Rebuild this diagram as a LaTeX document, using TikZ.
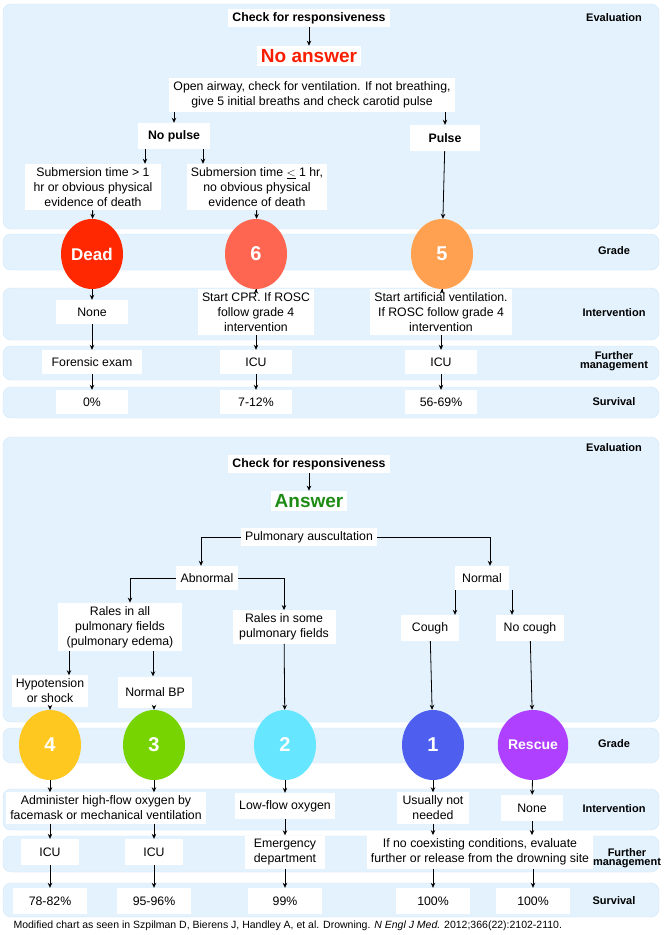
\documentclass[tikz,border=0pt]{standalone}
\usepackage{fontspec}
\setmainfont{Liberation Sans}
\usetikzlibrary{arrows.meta,calc,shapes.geometric}
\definecolor{pan}{HTML}{E3F2FD}
\definecolor{panb}{HTML}{CFE5F7}
\begin{document}
\begin{tikzpicture}[x=1pt,y=-1pt,
  panel/.style={fill=pan,draw=panb,rounded corners=8pt},
  b/.style={fill=white,inner xsep=4pt,inner ysep=3.5pt,align=center,font=\fontsize{12.3}{15}\selectfont},
  bb/.style={b,font=\fontsize{12.3}{15}\selectfont\bfseries},
  lab/.style={align=center,font=\fontsize{11}{11.5}\selectfont\bfseries},
  g/.style={ellipse,minimum width=62pt,minimum height=70pt,inner sep=0pt,text=white,font=\fontsize{20}{20}\selectfont\bfseries},
  a/.style={-{Stealth[length=5pt,width=4.5pt]},line width=0.8pt}]
\path[use as bounding box] (0,0) rectangle (672,935);
% panels
\path[panel] (3,4) rectangle (659,229);
\path[panel] (3,234) rectangle (659,270);
\path[panel] (3,288) rectangle (659,340);
\path[panel] (3,346) rectangle (659,380);
\path[panel] (3,387) rectangle (659,418);
\path[panel] (3,437) rectangle (659,722);
\path[panel] (3,728) rectangle (659,763);
\path[panel] (3,789) rectangle (659,830);
\path[panel] (3,836) rectangle (659,872);
\path[panel] (3,883) rectangle (659,917);
% labels
\node[lab] (l1) at (614,18) {Evaluation};
\node[lab] (l2) at (614,251) {Grade};
\node[lab] (l3) at (614,313) {Intervention};
\node[lab] (l4) at (614,361) {Further\\[-2pt]management};
\node[lab] (l5) at (614,402) {Survival};
\node[lab] (m1) at (614,448) {Evaluation};
\node[lab] (m2) at (614,744) {Grade};
\node[lab] (m3) at (614,809) {Intervention};
\node[lab] (m4) at (627,858) {Further\\[-2pt]management};
\node[lab] (m5) at (614,901) {Survival};
% top
\node[bb] (chk) at (309,18) {Check for responsiveness};
\node[b,font=\fontsize{19}{19}\selectfont\bfseries,text={rgb,255:red,250;green,30;blue,0}] (na) at (309,56) {No answer};
\node[b] (open) at (312,95) {Open airway, check for ventilation. If not breathing,\\give 5 initial breaths and check carotid pulse};
\node[bb,minimum width=72pt,minimum height=26pt] (np) at (174,136) {No pulse};
\node[bb,minimum width=70pt,minimum height=26pt] (p) at (445,138) {Pulse};
\node[b,minimum width=136pt] (s1) at (93,187) {Submersion time > 1\\hr or obvious physical\\evidence of death};
\node[b,minimum width=136pt] (s2) at (257,187) {Submersion time $\underline{<}$ 1 hr,\\no obvious physical\\evidence of death};
\node[g,fill={rgb,255:red,255;green,40;blue,0},font=\fontsize{17}{17}\selectfont\bfseries] (dead) at (92,254) {Dead};
\node[g,fill={rgb,255:red,255;green,102;blue,82}] (g6) at (256,254) {6};
\node[g,fill={rgb,255:red,255;green,161;blue,80}] (g5) at (442,254) {5};
\node[b,minimum width=72pt,minimum height=24pt] (i0) at (92,312) {None};
\node[b] (i6) at (256,312) {Start CPR. If ROSC\\follow grade 4\\intervention};
\node[b] (i5) at (441,312) {Start artificial ventilation.\\If ROSC follow grade 4\\intervention};
\node[b,minimum width=100pt,minimum height=24pt] (f0) at (92,362) {Forensic exam};
\node[b,minimum width=72pt,minimum height=24pt] (f6) at (256,362) {ICU};
\node[b,minimum width=72pt,minimum height=24pt] (f5) at (441,362) {ICU};
\node[b,minimum width=72pt,minimum height=24pt] (v0) at (92,402) {0\%};
\node[b,minimum width=72pt,minimum height=24pt] (v6) at (256,402) {7-12\%};
\node[b,minimum width=72pt,minimum height=24pt] (v5) at (441,402) {56-69\%};
\draw[a] (chk) -- (na);
\draw[a] (open.south -| np) -- (np);
\draw[a] (open.south -| p) -- (p);
\coordinate (c1) at (145,0);
\coordinate (c2) at (203,0);
\draw[a] (np.south -| c1) -- (s1.north -| c1);
\draw[a] (np.south -| c2) -- (s2.north -| c2);
\draw[a] (s1) -- (dead);
\draw[a] (s2) -- (g6);
\draw[a] (p) -- (g5);
\foreach \u/\v/\w/\z in {dead/i0/f0/v0, g6/i6/f6/v6, g5/i5/f5/v5}{
  \draw[a] (\u) -- (\u |- \v.north);
  \draw[a] (\v) -- (\w);
  \draw[a] (\w) -- (\z);}
% bottom
\node[bb] (chk2) at (309,464) {Check for responsiveness};
\node[b,font=\fontsize{19}{19}\selectfont\bfseries,text={rgb,255:red,30;green,140;blue,20}] (ans) at (309,501) {Answer};
\node[b] (pa) at (309,537) {Pulmonary auscultation};
\node[b,minimum width=62pt,minimum height=24pt] (ab) at (207,578) {Abnormal};
\node[b,minimum width=54pt,minimum height=24pt] (no) at (482,578) {Normal};
\node[b,minimum width=124pt] (ra) at (120,627) {Rales in all\\pulmonary fields\\(pulmonary edema)};
\node[b,minimum width=103pt] (rs) at (284,627) {Rales in some\\pulmonary fields};
\node[b,minimum width=58pt,minimum height=26pt] (co) at (430,628) {Cough};
\node[b,minimum width=68pt,minimum height=26pt] (nc) at (530,628) {No cough};
\node[b,minimum width=74pt] (hy) at (50,691) {Hypotension\\or shock};
\node[b,minimum width=74pt,minimum height=31pt] (nb) at (155,692) {Normal BP};
\node[g,fill={rgb,255:red,255;green,200;blue,32}] (g4) at (50,745) {4};
\node[g,fill={rgb,255:red,120;green,212;blue,0}] (g3) at (154,745) {3};
\node[g,fill={rgb,255:red,102;green,230;blue,255}] (g2) at (285,745) {2};
\node[g,fill={rgb,255:red,78;green,95;blue,240}] (g1) at (433,745) {1};
\node[g,fill={rgb,255:red,176;green,64;blue,255},font=\fontsize{14}{14}\selectfont\bfseries] (gr) at (533,745) {Rescue};
\node[b] (ia) at (106,808) {Administer high-flow oxygen by\\facemask or mechanical ventilation};
\node[b,minimum height=26pt] (i2) at (285,806) {Low-flow oxygen};
\node[b,minimum width=72pt] (i1) at (433,808) {Usually not\\needed};
\node[b,minimum width=62pt,minimum height=26pt] (ir) at (532,808) {None};
\node[b,minimum width=58pt,minimum height=26pt] (f4) at (50,852) {ICU};
\node[b,minimum width=58pt,minimum height=26pt] (f3) at (154,852) {ICU};
\node[b,minimum width=80pt] (f2) at (285,852) {Emergency\\department};
\node[b] (f1) at (480,852) {If no coexisting conditions, evaluate\\further or release from the drowning site};
\node[b,minimum width=74pt,minimum height=26pt] (v4) at (50,901) {78-82\%};
\node[b,minimum width=74pt,minimum height=26pt] (v3) at (154,901) {95-96\%};
\node[b,minimum width=74pt,minimum height=26pt] (v2) at (285,901) {99\%};
\node[b,minimum width=74pt,minimum height=26pt] (v1) at (433,901) {100\%};
\node[b,minimum width=74pt,minimum height=26pt] (vr) at (533,901) {100\%};
\draw[a] (chk2) -- (ans);
\draw[a] (pa.west) -| (ab.north -| 201,0);
\draw[a] (pa.east) -| (no.north -| 490,0);
\draw[a] (ab.west) -| (ra.north -| 130,0);
\draw[a] (ab.east) -| (rs.north);
\draw[a] (no.south -| 455,0) -- (co.north -| 455,0);
\draw[a] (no.south -| 512,0) -- (nc.north -| 512,0);
\draw[a] (ra.south -| 69,0) -- (hy.north -| 69,0);
\draw[a] (ra.south -| 153,0) -- (nb.north -| 153,0);
\draw[a] (hy) -- (g4);
\draw[a] (nb.south -| g3) -- (g3);
\draw[a] (rs) -- (g2);
\draw[a] (co) -- (g1);
\draw[a] (nc) -- (gr);
\draw[a] (g4) -- (g4 |- ia.north);
\draw[a] (g3) -- (g3 |- ia.north);
\draw[a] (ia.south -| f4) -- (f4);
\draw[a] (ia.south -| f3) -- (f3);
\draw[a] (f4) -- (v4);
\draw[a] (f3) -- (v3);
\draw[a] (g2) -- (i2);
\draw[a] (i2) -- (f2);
\draw[a] (f2) -- (v2);
\draw[a] (g1) -- (i1);
\draw[a] (gr) -- (ir);
\draw[a] (i1) -- (i1 |- f1.north);
\draw[a] (ir) -- (ir |- f1.north);
\draw[a] (f1.south -| v1) -- (v1);
\draw[a] (f1.south -| vr) -- (vr);
\node[anchor=west,font=\fontsize{10.5}{11}\selectfont] (fn) at (10,926) {Modified chart as seen in Szpilman D, Bierens J, Handley A, et al. Drowning. \textit{N Engl J Med.} 2012;366(22):2102-2110.};
\end{tikzpicture}
\end{document}
